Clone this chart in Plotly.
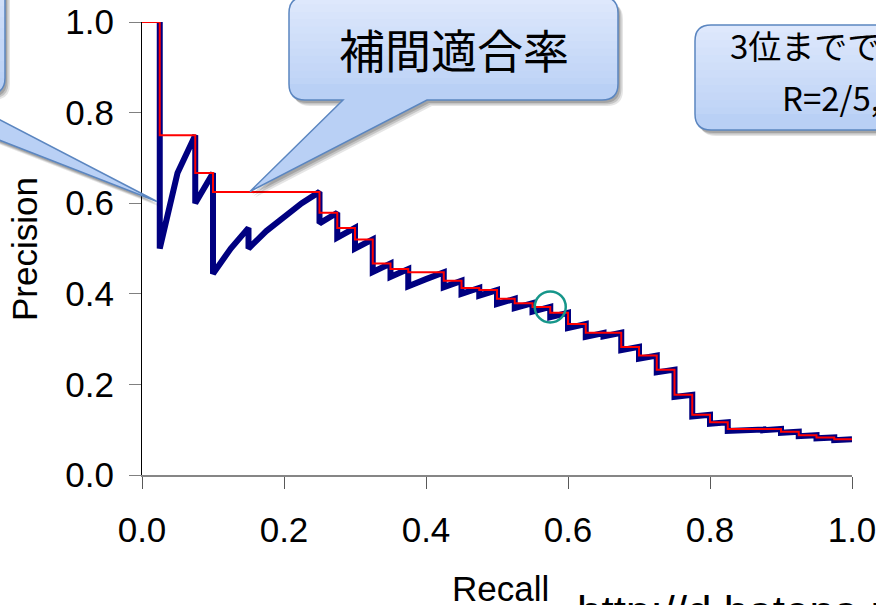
import plotly.graph_objects as go

# ---- data (precision-recall curve, 40 relevant docs) ----
recall = [0.025, 0.05, 0.075, 0.1, 0.125, 0.15, 0.175, 0.2, 0.225, 0.25,
          0.275, 0.3, 0.325, 0.35, 0.375, 0.4, 0.425, 0.45, 0.475, 0.5,
          0.525, 0.55, 0.575, 0.6, 0.625, 0.65, 0.675, 0.7, 0.725, 0.75,
          0.775, 0.8, 0.825, 0.85, 0.875, 0.9, 0.925, 0.95, 0.975, 1.0]
# precision reached at each recall level (peak of the saw tooth)
prec_peak = [1.0, 0.6667, 0.75, 0.6667, 0.5, 0.5455, 0.5385, 0.5714, 0.6, 0.625,
             0.5789, 0.5455, 0.52, 0.4667, 0.4545, 0.4324, 0.4474, 0.4286, 0.4130, 0.4082,
             0.3889, 0.3793, 0.3710, 0.3582, 0.3333, 0.3133, 0.3140, 0.2828, 0.2636, 0.2326,
             0.1771, 0.1328, 0.1162, 0.1000, 0.1006, 0.1014, 0.0956, 0.0880, 0.0830, 0.0787]
# precision after the drop at the same recall level (before the next hit)
prec_trough = [0.5, 0.6667, 0.6, 0.4444, 0.5, 0.5, 0.5385, 0.5714, 0.6, 0.5556,
               0.5238, 0.5, 0.4483, 0.4375, 0.4167, 0.4324, 0.4146, 0.4, 0.3958, 0.3774,
               0.3684, 0.3607, 0.3485, 0.3243, 0.3049, 0.3059, 0.2755, 0.2569, 0.2266, 0.1724,
               0.1292, 0.1131, 0.0973, 0.0980, 0.0989, 0.0933, 0.0858, 0.0810, 0.0769, 0.0787]
# interpolated precision (red step line)
prec_interp = [1.0, 0.75, 0.75, 0.6667, 0.625, 0.625, 0.625, 0.625, 0.625, 0.625,
               0.5789, 0.5455, 0.52, 0.4667, 0.4545, 0.4474, 0.4474, 0.4286, 0.4130, 0.4082,
               0.3889, 0.3793, 0.3710, 0.3582, 0.3333, 0.3140, 0.3140, 0.2828, 0.2636, 0.2326,
               0.1771, 0.1328, 0.1162, 0.1014, 0.1014, 0.1014, 0.0956, 0.0880, 0.0830, 0.0787]
x_ticks = [0.0, 0.2, 0.4, 0.6, 0.8, 1.0]
y_ticks = [0.0, 0.2, 0.4, 0.6, 0.8, 1.0]
highlight_index = 22  # circled point

bubble_main_text = "補間適合率"
bubble_right_line1 = "3位までで打ち切ると"
bubble_right_line2 = "R=2/5, P=2/3"
x_title = "Recall"
y_title = "Precision"
url_text = "http://d.hatena.ne.jp/"

# ---- figure geometry (pixels) ----
W, H = 876, 605
L, R, T, B = 142, 24, 22, 130
PW, PH = W - L - R, H - T - B


def X(px):
    return (px - L) / PW


def Y(py):
    return (H - B - py) / PH


# navy saw-tooth path
navy_x, navy_y = [], []
for r, pk, tr in zip(recall, prec_peak, prec_trough):
    navy_x += [r, r]
    navy_y += [pk, tr]

fig = go.Figure()
fig.add_trace(go.Scatter(x=navy_x, y=navy_y, mode="lines",
                         line=dict(color="#000080", width=6),
                         cliponaxis=False, hoverinfo="skip", showlegend=False))
fig.add_trace(go.Scatter(x=[0.0] + recall, y=[prec_interp[0]] + prec_interp, mode="lines",
                         line=dict(color="#ff0000", width=2, shape="vh"),
                         cliponaxis=False, hoverinfo="skip", showlegend=False))

shapes = []


def mix(c1, c2, f):
    return "rgb(%d,%d,%d)" % tuple(round(a + (b - a) * f) for a, b in zip(c1, c2))


def bubble(l, t, r, b, rad, tail=None, top_c=(223, 233, 252), bot_c=(184, 207, 245)):
    def P(px, py):
        return "%.5f,%.5f" % (X(px), Y(py))

    def outline(dx=0, dy=0):
        s = "M " + P(l + rad + dx, t + dy)
        s += " L " + P(r - rad + dx, t + dy)
        s += " Q " + P(r + dx, t + dy) + " " + P(r + dx, t + rad + dy)
        s += " L " + P(r + dx, b - rad + dy)
        s += " Q " + P(r + dx, b + dy) + " " + P(r - rad + dx, b + dy)
        if tail:
            (br, bl, tip) = tail
            s += " L " + P(br + dx, b + dy) + " L " + P(tip[0] + dx, tip[1] + dy) + " L " + P(bl + dx, b + dy)
        s += " L " + P(l + rad + dx, b + dy)
        s += " Q " + P(l + dx, b + dy) + " " + P(l + dx, b - rad + dy)
        s += " L " + P(l + dx, t + rad + dy)
        s += " Q " + P(l + dx, t + dy) + " " + P(l + rad + dx, t + dy) + " Z"
        return s

    # shadow
    for off, op in [(5, 0.10), (3.5, 0.14), (2, 0.16)]:
        shapes.append(dict(type="path", xref="paper", yref="paper", path=outline(off, off + 1),
                           fillcolor="rgba(0,0,0,%.2f)" % op, line=dict(width=0), layer="above"))
    n = 14
    shapes.append(dict(type="path", xref="paper", yref="paper", path=outline(),
                       fillcolor=mix(top_c, bot_c, (n - 0.5) / n), line=dict(width=0), layer="above"))
    for k in range(n - 1, 0, -1):
        yb = min(t + (b - t) * k / n, b - rad)
        s = "M " + P(l, yb) + " L " + P(l, t + rad) + " Q " + P(l, t) + " " + P(l + rad, t)
        s += " L " + P(r - rad, t) + " Q " + P(r, t) + " " + P(r, t + rad) + " L " + P(r, yb) + " Z"
        shapes.append(dict(type="path", xref="paper", yref="paper", path=s,
                           fillcolor=mix(top_c, bot_c, (k - 0.5) / n), line=dict(width=0), layer="above"))
    shapes.append(dict(type="path", xref="paper", yref="paper", path=outline(),
                       fillcolor="rgba(0,0,0,0)", line=dict(color="#5b86c0", width=1.5), layer="above"))


# left (cut-off) bubble
bubble(-320, -60, 5, 94, 16, tail=(-50, -119, (157, 201.5)))
# middle bubble
bubble(289, -3, 618, 100, 16, tail=(427, 343, (250, 191.5)))
# right (cut-off) bubble
bubble(695, 25, 1150, 130, 16)

# highlight circle
shapes.append(dict(type="circle", xref="x", yref="y", xsizemode="pixel", ysizemode="pixel",
                   xanchor=recall[highlight_index], yanchor=prec_peak[highlight_index],
                   x0=-15.5, x1=15.5, y0=-15.5, y1=15.5,
                   line=dict(color="#16968a", width=2.5), layer="above"))

cjk = "Noto Sans CJK JP"
arial = "Liberation Sans, Arial"
annotations = [
    dict(text=bubble_main_text, x=X(454), y=Y(48), xref="paper", yref="paper",
         showarrow=False, xanchor="center", yanchor="middle",
         font=dict(family=cjk, size=46, color="black")),
    dict(text=bubble_right_line1, x=X(728), y=Y(45), xref="paper", yref="paper",
         showarrow=False, xanchor="left", yanchor="middle",
         font=dict(family=cjk, size=33, color="black")),
    dict(text=bubble_right_line2, x=X(780), y=Y(97), xref="paper", yref="paper",
         showarrow=False, xanchor="left", yanchor="middle",
         font=dict(family=cjk, size=33, color="black")),
    dict(text=y_title, x=X(24), y=Y(249), xref="paper", yref="paper", textangle=-90,
         showarrow=False, xanchor="center", yanchor="middle",
         font=dict(family=arial, size=35, color="black")),
    dict(text=x_title, x=X(500), y=Y(588), xref="paper", yref="paper",
         showarrow=False, xanchor="center", yanchor="middle",
         font=dict(family=arial, size=35, color="black")),
    dict(text=url_text, x=X(575), y=Y(585), xref="paper", yref="paper",
         showarrow=False, xanchor="left", yanchor="top",
         font=dict(family=arial, size=44, color="black")),
]

fig.update_layout(
    width=W, height=H,
    margin=dict(l=L, r=R, t=T, b=B, pad=0),
    paper_bgcolor="white", plot_bgcolor="white",
    showlegend=False,
    shapes=shapes,
    annotations=annotations,
    xaxis=dict(range=[0, 1], tickvals=x_ticks, ticktext=["%.1f" % v for v in x_ticks],
               showgrid=False, zeroline=False, showline=True, linecolor="#868686", linewidth=1.5,
               ticks="outside", ticklen=12, tickwidth=1.2, tickcolor="#595959",
               ticklabelstandoff=11, ticklabeloverflow="allow", automargin=False,
               tickfont=dict(family=arial, size=35, color="black")),
    yaxis=dict(range=[0, 1], tickvals=y_ticks, ticktext=["%.1f" % v for v in y_ticks],
               showgrid=False, zeroline=False, showline=True, linecolor="black", linewidth=1.2,
               ticks="outside", ticklen=12, tickwidth=1.2, tickcolor="#808080",
               ticklabelstandoff=8, ticklabeloverflow="allow", automargin=False,
               tickfont=dict(family=arial, size=35, color="black")),
)

fig.write_html("out.html", config={"displayModeBar": False},
               post_script="document.body.style.margin='0px';document.body.style.overflow='hidden';")
